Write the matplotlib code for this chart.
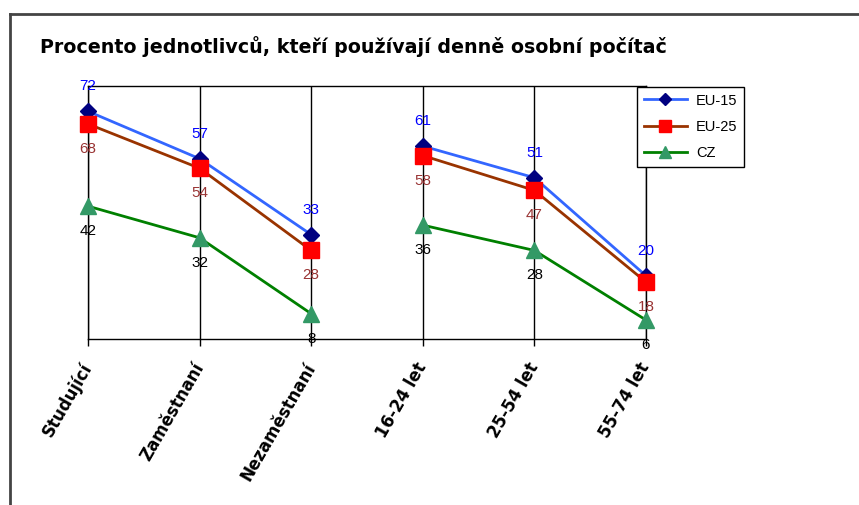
import numpy as np
import matplotlib.pyplot as plt
from matplotlib.lines import Line2D

plt.rcParams['font.family'] = ['Liberation Sans', 'DejaVu Sans']

# Data
categories = ["Studující", "Zaměstnaní", "Nezaměstnaní", "16-24 let", "25-54 let", "55-74 let"]
eu15 = [72, 57, 33, 61, 51, 20]
eu25 = [68, 54, 28, 58, 47, 18]
cz = [42, 32, 8, 36, 28, 6]
title = "Procento jednotlivců, kteří používají denně osobní počítač"

# Groups are not connected (status vs. age)
groups = [slice(0, 3), slice(3, 6)]

fig = plt.figure(figsize=(8.59, 5.05), dpi=100)
ax = fig.add_axes([88/859, 1-339/505, (646-88)/859, (339-86)/505])

x = np.arange(len(categories))

series = [
	("EU-15", eu15, "#3366FF", "D", "#000080", 8, "#0000FF", 18),
	("EU-25", eu25, "#993300", "s", "#FF0000", 11, "#993333", -18),
	("CZ", cz, "#008000", "^", "#339966", 11, "black", -18),
]

for name, vals, lc, mk, mc, ms, tc, off in series:
	vals = np.array(vals, dtype=float)
	for g in groups:
		ax.plot(x[g], vals[g], color=lc, lw=2, marker=mk, markersize=ms,
				markerfacecolor=mc, markeredgecolor=mc, zorder=3, clip_on=False)
	for xi, v in zip(x, vals):
		ax.annotate(f"{int(v)}", (xi, v), xytext=(0, off), textcoords="offset points",
					ha="center", va="center", color=tc, fontsize=11, zorder=4)

# Legend handles
handles = [Line2D([], [], color=lc, lw=2, marker=mk, markersize=ms*0.8,
				  markerfacecolor=mc, markeredgecolor=mc)
		   for name, vals, lc, mk, mc, ms, tc, off in series]
leg = fig.legend(handles, [s[0] for s in series], loc="upper left",
				 bbox_to_anchor=(637/859, 1-87/505), bbox_transform=fig.transFigure,
				 borderaxespad=0, fancybox=False, edgecolor="black", framealpha=1,
				 fontsize=10.5, handlelength=3, labelspacing=0.85, borderpad=0.45,
				 handletextpad=0.6)
leg.get_frame().set_linewidth(1)

ax.set_xlim(0, 5)
ax.set_ylim(0, 80)
ax.set_yticks([])
ax.set_xticks(x)
ax.set_xticklabels(categories, rotation=60, ha="right", va="center", rotation_mode="anchor",
				   fontsize=12, fontweight="bold", family="DejaVu Sans")
ax.tick_params(axis="x", length=5, width=1, direction="out", pad=13)
for lbl in ax.get_xticklabels():
	lbl.set_x(lbl.get_position()[0])
ax.grid(axis="x", color="black", lw=1)
for s in ax.spines.values():
	s.set_color("black")
	s.set_linewidth(1)

fig.text(40/859, 1-47/505, title, ha="left", va="center", fontsize=13.7, fontweight="bold",
		 family="DejaVu Sans")

# Outer frame (only top and left edges visible)
fig.add_artist(Line2D([10/859, 10/859], [0, 1-14/505], transform=fig.transFigure, color="#444444", lw=2))
fig.add_artist(Line2D([10/859, 1], [1-14/505, 1-14/505], transform=fig.transFigure, color="#444444", lw=2))

plt.savefig("out.png", dpi=100)
